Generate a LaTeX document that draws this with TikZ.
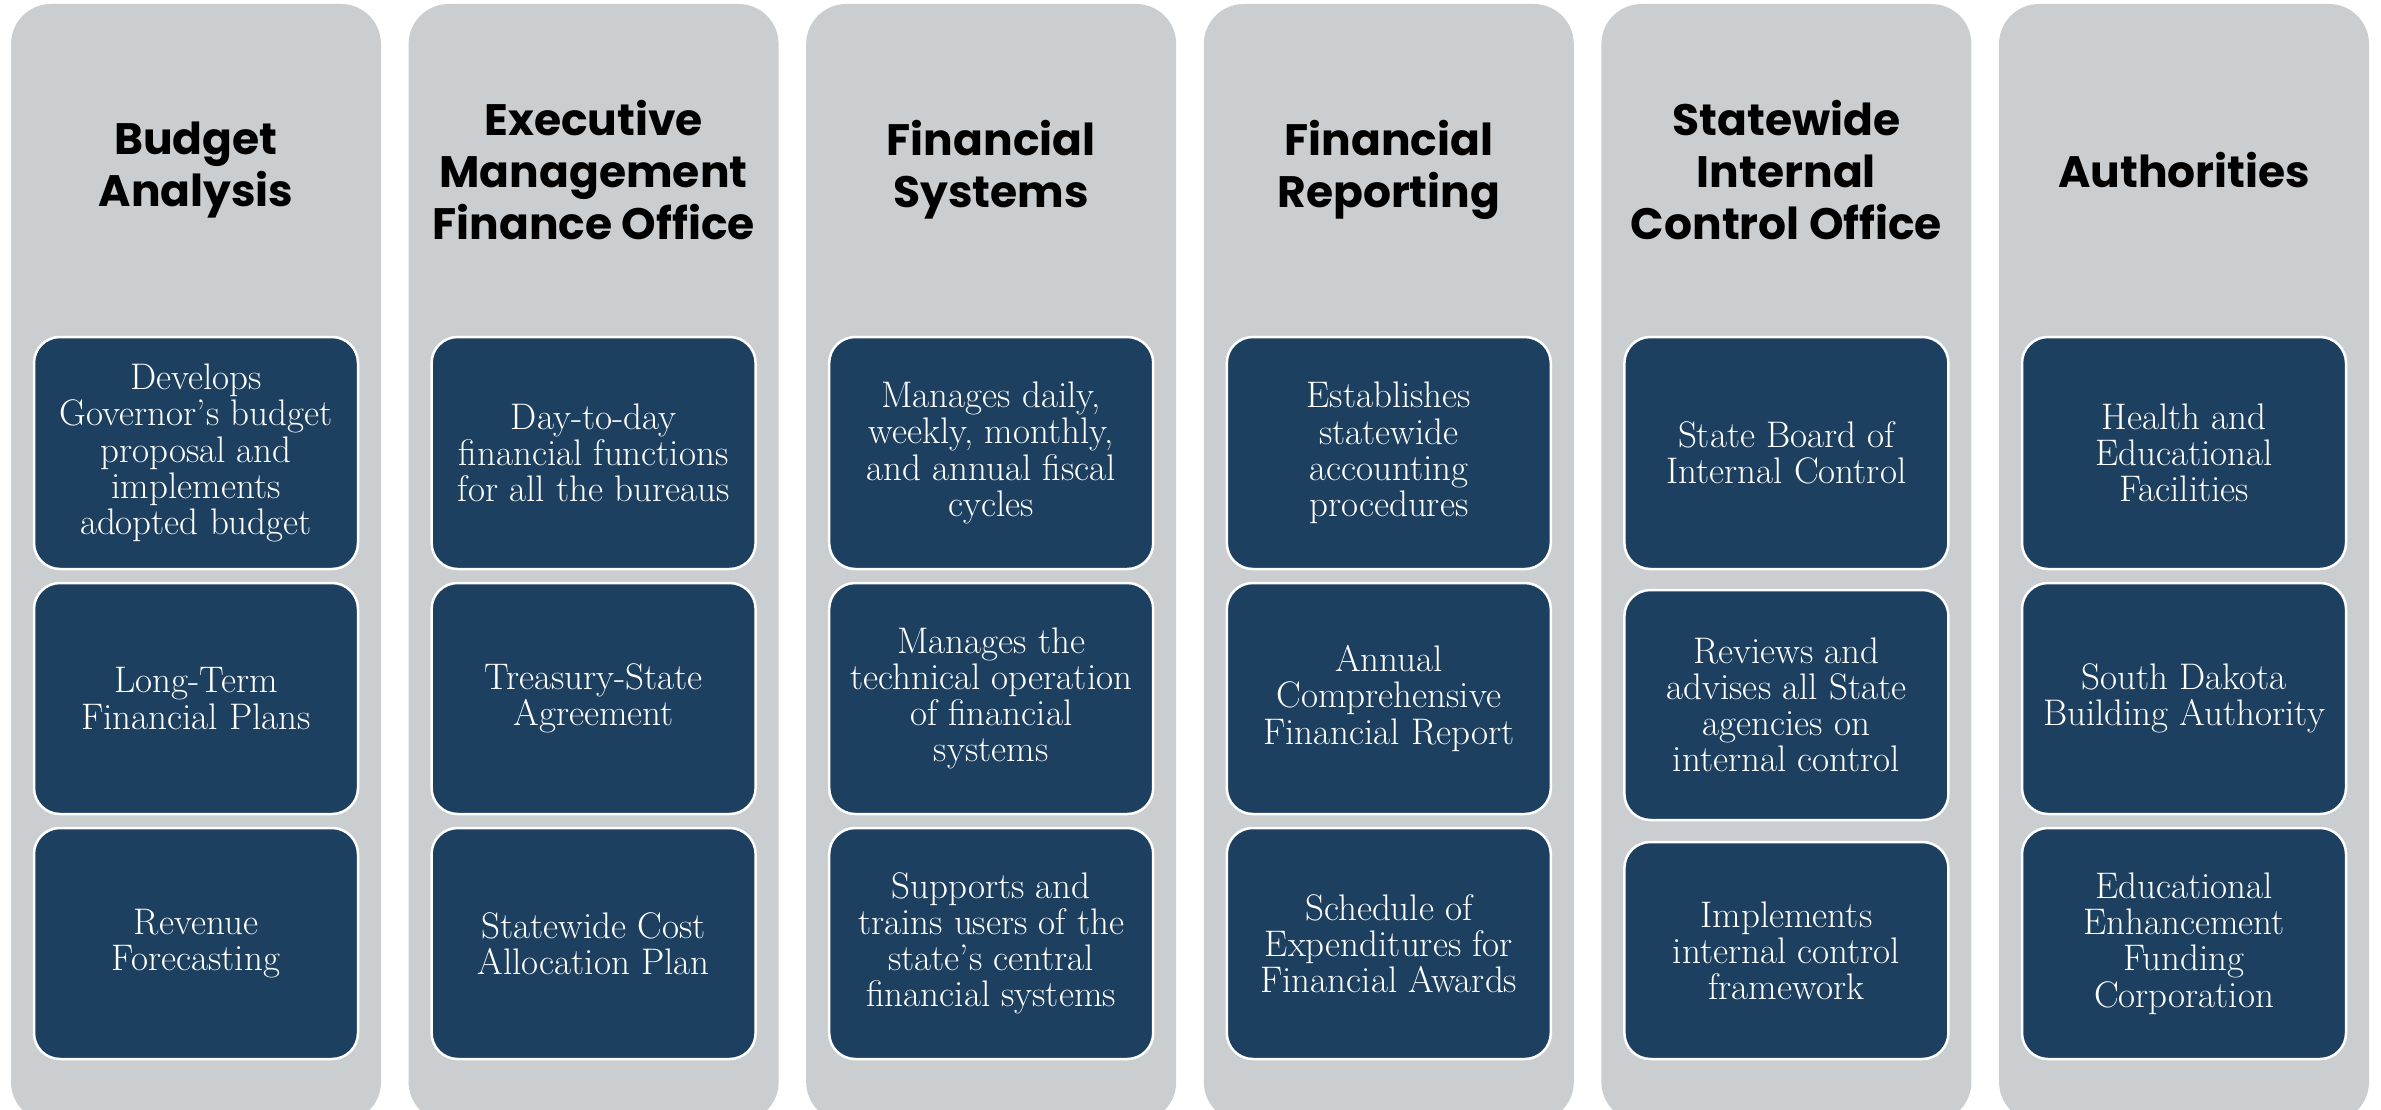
\documentclass[tikz,border=0pt]{standalone}
\usepackage{fontspec}
\newfontfamily\titlefont{Poppins}
\definecolor{colgrey}{RGB}{203,206,209}
\definecolor{boxblue}{RGB}{29,64,96}
\tikzset{
  column/.style={fill=colgrey, rounded corners=40pt, draw=none},
  heading/.style={font=\titlefont\bfseries\fontsize{44}{52}\selectfont, align=center, text=black, inner sep=0pt},
  itembox/.style={fill=boxblue, draw=white, line width=2.5pt, rounded corners=26pt,
    minimum width=324pt, minimum height=231pt, text=white, align=center, inner sep=0pt,
    font=\fontsize{37}{36.2}\selectfont},
}
\begin{document}
\begin{tikzpicture}[x=1pt,y=-1pt]
\useasboundingbox (0,0) rectangle (2381,1110);
\clip (0,0) rectangle (2381,1110);
\foreach \i in {0,...,5}{
  \pgfmathsetmacro{\xl}{11+\i*397.6}
  \path[column] (\xl,4) rectangle ++(370,1118);
}
% column centres
\def\cA{196}
\def\cB{593.6}
\def\cC{991.2}
\def\cD{1388.8}
\def\cE{1786.4}
\def\cF{2184}
% headings
\node[heading] (h1) at (\cA,170) {Budget\\Analysis};
\node[heading] (h2) at (\cB,170) {Executive\\Management\\Finance Office};
\node[heading] (h3) at (\cC,170) {Financial\\Systems};
\node[heading] (h4) at (\cD,170) {Financial\\Reporting};
\node[heading] (h5) at (\cE,170) {Statewide\\Internal\\Control Office};
\node[heading] (h6) at (\cF,170) {Authorities};
% column 1
\node[itembox, minimum height=232pt] (a1) at (\cA,453) {Develops\\Governor’s budget\\proposal and\\implements\\adopted budget};
\node[itembox] (a2) at (\cA,698.5) {Long-Term\\Financial Plans};
\node[itembox] (a3) at (\cA,943.5) {Revenue\\Forecasting};
% column 2
\node[itembox, minimum height=232pt] (b1) at (\cB,453) {Day-to-day\\financial functions\\for all the bureaus};
\node[itembox] (b2) at (\cB,698.5) {Treasury-State\\Agreement};
\node[itembox] (b3) at (\cB,943.5) {Statewide Cost\\Allocation Plan};
% column 3
\node[itembox, minimum height=232pt] (c1) at (\cC,453) {Manages daily,\\weekly, monthly,\\and annual fiscal\\cycles};
\node[itembox] (c2) at (\cC,698.5) {Manages the\\technical operation\\of financial\\systems};
\node[itembox] (c3) at (\cC,943.5) {Supports and\\trains users of the\\state’s central\\financial systems};
% column 4
\node[itembox, minimum height=232pt] (d1) at (\cD,453) {Establishes\\statewide\\accounting\\procedures};
\node[itembox] (d2) at (\cD,698.5) {Annual\\Comprehensive\\Financial Report};
\node[itembox] (d3) at (\cD,943.5) {Schedule of\\Expenditures for\\Financial Awards};
% column 5
\node[itembox, minimum height=232pt] (e1) at (\cE,453) {State Board of\\Internal Control};
\node[itembox, minimum height=230pt] (e2) at (\cE,705) {Reviews and\\advises all State\\agencies on\\internal control};
\node[itembox, minimum height=217pt] (e3) at (\cE,950.5) {Implements\\internal control\\framework};
% column 6
\node[itembox, minimum height=232pt] (f1) at (\cF,453) {Health and\\Educational\\Facilities};
\node[itembox] (f2) at (\cF,698.5) {South Dakota\\Building Authority};
\node[itembox] (f3) at (\cF,943.5) {Educational\\Enhancement\\Funding\\Corporation};
\end{tikzpicture}
\end{document}
